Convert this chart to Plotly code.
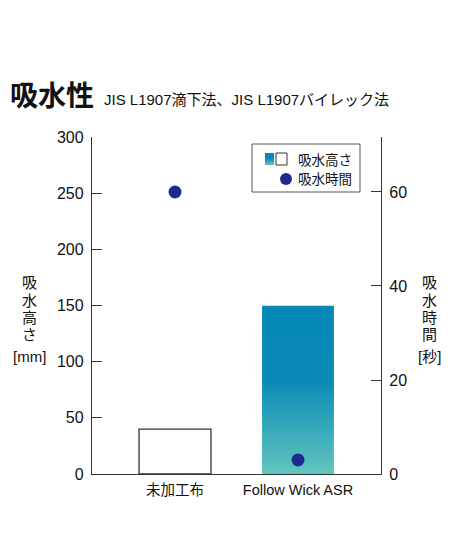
import base64

import plotly.graph_objects as go

# page body adds an 8px margin, so everything is laid out in reference
# pixels and shifted by OFF
OFF = 8
W, H = 438, 528
L, R, T, B = 92, 381, 137, 474  # plot area, reference pixels

categories = ['未加工布', 'Follow Wick ASR']
height_mm = [40, 150]
time_sec = [60, 3]

left_ticks = [0, 50, 100, 150, 200, 250, 300]
right_ticks = [0, 20, 40, 60]
right_max = 71.7

left_title = ['吸', '水', '高', 'さ', '[mm]']
right_title = ['吸', '水', '時', '間', '[秒]']

NAVY = '#1b2a8c'
AXIS = '#333333'
FONT = 'Liberation Sans, Arial, Noto Sans CJK JP'


def px_x(p):
    return (p - L) / (R - L)


def px_y(p):
    return (B - p) / (B - T)


def gradient_uri():
    svg = ('<svg xmlns="http://www.w3.org/2000/svg" width="10" height="100" '
           'preserveAspectRatio="none"><defs><linearGradient id="g" x1="0" '
           'y1="0" x2="0" y2="1"><stop offset="0" stop-color="#0587b6"/>'
           '<stop offset="0.45" stop-color="#0a8bb7"/>'
           '<stop offset="1" stop-color="#62c5bd"/></linearGradient></defs>'
           '<rect width="10" height="100" fill="url(#g)"/></svg>')
    return 'data:image/svg+xml;base64,' + base64.b64encode(svg.encode()).decode()


GRAD = gradient_uri()
bar_w = 0.585

fig = go.Figure()

fig.add_trace(go.Bar(
    x=categories, y=height_mm, width=bar_w,
    marker=dict(color=['white', 'rgba(0,0,0,0)'],
                line=dict(color=[AXIS, 'rgba(0,0,0,0)'], width=1.3)),
    showlegend=False, hoverinfo='skip'))

fig.add_trace(go.Scatter(
    x=categories, y=time_sec, yaxis='y2', mode='markers',
    marker=dict(color=NAVY, size=13), showlegend=False))

# gradient fill for the treated bar
fig.add_layout_image(dict(
    source=GRAD, xref='x', yref='y', x=1 - bar_w / 2, y=height_mm[1],
    sizex=bar_w, sizey=height_mm[1], xanchor='left', yanchor='top',
    sizing='stretch', layer='below'))

# custom legend
fig.add_shape(type='rect', xref='paper', yref='paper',
              x0=px_x(252), x1=px_x(360), y0=px_y(192), y1=px_y(144),
              line=dict(color='#555', width=1), fillcolor='rgba(0,0,0,0)')
fig.add_layout_image(dict(
    source=GRAD, xref='paper', yref='paper', x=px_x(265), y=px_y(153),
    sizex=px_x(274) - px_x(265), sizey=px_y(153) - px_y(165),
    xanchor='left', yanchor='top', sizing='stretch', layer='above'))
fig.add_shape(type='rect', xref='paper', yref='paper',
              x0=px_x(276), x1=px_x(287), y0=px_y(165), y1=px_y(153),
              line=dict(color=AXIS, width=1), fillcolor='white')
fig.add_shape(type='circle', xref='paper', yref='paper',
              x0=px_x(280), x1=px_x(292), y0=px_y(185), y1=px_y(173),
              line=dict(color=NAVY, width=0), fillcolor=NAVY)

annotations = [
    dict(text='吸水高さ', x=px_x(296), y=px_y(160), xanchor='left',
         font=dict(size=13.5)),
    dict(text='吸水時間', x=px_x(296), y=px_y(179), xanchor='left',
         font=dict(size=13.5)),
    dict(text='<b>吸水性</b>', x=px_x(8), y=px_y(97), xanchor='left',
         font=dict(size=28)),
    dict(text='JIS L1907滴下法、JIS L1907バイレック法', x=px_x(102),
         y=px_y(99), xanchor='left', font=dict(size=15)),
]

# vertical axis titles, one glyph per line
title_rows = [282, 300, 317, 334, 356]
for xpos, chars in ((29, left_title), (429, right_title)):
    for ch, ypos in zip(chars, title_rows):
        annotations.append(dict(text=ch, x=px_x(xpos), y=px_y(ypos),
                                xanchor='center', font=dict(size=15)))

for a in annotations:
    a.update(xref='paper', yref='paper', yanchor='middle', showarrow=False)
    a['font']['color'] = '#111'

fig.update_layout(
    width=W, height=H,
    margin=dict(l=L - OFF, r=W - (R - OFF), t=T - OFF, b=H - (B - OFF)),
    paper_bgcolor='white', plot_bgcolor='rgba(0,0,0,0)',
    font=dict(family=FONT, size=14, color='#111'),
    showlegend=False,
    annotations=annotations,
    xaxis=dict(range=[-0.675, 1.675], showline=True, linecolor=AXIS,
               linewidth=1.3, ticks='', showgrid=False, zeroline=False,
               tickfont=dict(size=14.5), ticklabelstandoff=2,
               fixedrange=True),
    yaxis=dict(range=[0, 300], tickvals=left_ticks, ticks='inside',
               ticklen=10, tickcolor=AXIS, showline=True, linecolor=AXIS,
               linewidth=1.3, showgrid=False, zeroline=False,
               tickfont=dict(size=16), ticklabelstandoff=4),
    yaxis2=dict(range=[0, right_max], overlaying='y', side='right',
                tickvals=right_ticks + [right_max],
                ticktext=[str(v) for v in right_ticks] + [''],
                ticks='inside', ticklen=10, tickcolor=AXIS, showline=True,
                linecolor=AXIS, linewidth=1.3, showgrid=False,
                zeroline=False, tickfont=dict(size=16),
                ticklabelstandoff=4),
)

fig.write_html('out.html')
